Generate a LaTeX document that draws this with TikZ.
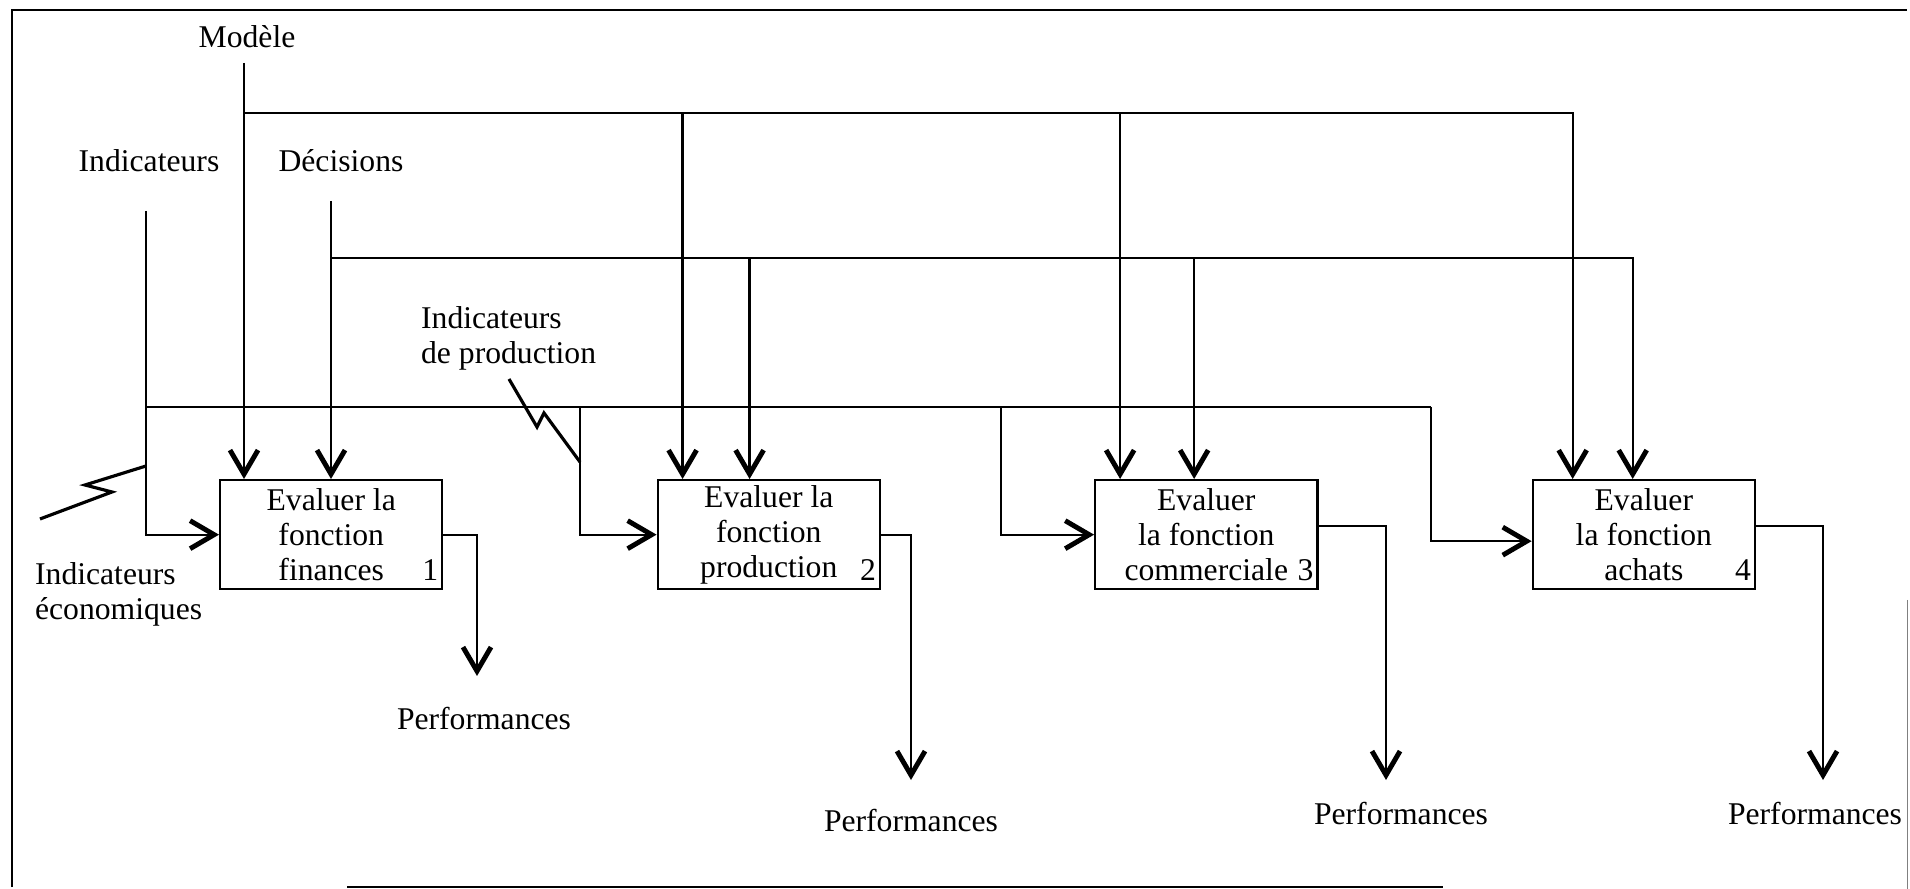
\documentclass[tikz,border=0pt]{standalone}
\usepackage{fontspec}
\setmainfont{Liberation Serif}
\usetikzlibrary{arrows.meta,positioning}

\begin{document}
\begin{tikzpicture}[x=0.01cm,y=-0.01cm,>={Straight Barb[length=2.4mm,width=2.8mm,line width=1.4pt]},
                    line width=0.65pt,node distance=2.13cm,
                    fonc/.style={rectangle,draw,minimum width=2.22cm,minimum height=1.09cm,
                                 inner sep=0pt,align=center,font=\fontsize{9}{10}\selectfont},
                    lbl/.style={inner sep=0pt,align=left,font=\fontsize{9}{10}\selectfont},
                    num/.style={inner sep=0pt,anchor=base east,font=\fontsize{9}{10}\selectfont},
                    eclair/.style={line width=0.9pt,line join=miter}]

  \useasboundingbox (0,0) rectangle (1910,889);
  % cadre
  \draw (12,887) -- (12,10) -- (1907,10);
  \draw[line width=0.4pt] (347,887) -- (1443,887);
  \draw[line width=0.3pt,gray] (1907,600) -- (1907,889);

  % entrees
  \node[lbl] (mod) at (247,37) {Modèle};
  \node[lbl] (ind) at (149,161) {Indicateurs};
  \node[lbl] (dec) at (341,161) {Décisions};
  \node[lbl,anchor=north west] (ieco) at (34,561) {Indicateurs\\économiques};
  \node[lbl,anchor=north west] (iprod) at (420,305) {Indicateurs\\de production};

  % fonctions
  \node[fonc,anchor=north west] (f1) at (219,479) {Evaluer la\\fonction\\finances};
  \node[fonc,right=of f1] (f2) {Evaluer la\\fonction\\production};
  \node[fonc,right=of f2] (f3) {Evaluer\\la fonction\\commerciale};
  \node[fonc,right=of f3] (f4) {Evaluer\\la fonction\\achats};

  \node[num] (n1) at ([shift={(-4,-10)}]f1.south east) {1};
  \node[num] (n2) at ([shift={(-4,-10)}]f2.south east) {2};
  \node[num] (n3) at ([shift={(-4,-10)}]f3.south east) {3};
  \node[num] (n4) at ([shift={(-4,-10)}]f4.south east) {4};

  % sorties
  \node[lbl] (p1) at (484,719) {Performances};
  \node[lbl] (p2) at (911,821) {Performances};
  \node[lbl] (p3) at (1401,814) {Performances};
  \node[lbl] (p4) at (1815,814) {Performances};

  \coordinate (mtop) at (244,63);
  \coordinate (dtop) at (331,201);
  \coordinate (itop) at (146,211);
  \coordinate (mbus) at (244,113);
  \coordinate (dbus) at (331,258);
  \coordinate (ibus) at (146,407);

  \coordinate (m2) at ([xshift=2.6mm]f2.north west);
  \coordinate (d2) at ([xshift=9.3mm]f2.north west);
  \coordinate (m3) at ([xshift=2.6mm]f3.north west);
  \coordinate (d3) at ([xshift=10.0mm]f3.north west);
  \coordinate (m4) at ([xshift=4.1mm]f4.north west);
  \coordinate (d4) at ([xshift=10.1mm]f4.north west);

  \coordinate (i2) at (580,407);
  \coordinate (i3) at (1001,407);
  \coordinate (i4) at (1431,407);

  \coordinate (o1) at (477,676);
  \coordinate (o2) at (911,780);
  \coordinate (o3) at (1386,780);
  \coordinate (o4) at (1823,780);

  % modele
  \draw[->] (mtop) -- (mtop |- f1.north);
  \draw[->] (mbus) -| (m4);
  \draw[->] (mbus -| m2) -- (m2);
  \draw[->] (mbus -| m3) -- (m3);

  % decisions
  \draw[->] (dtop) -- (dtop |- f1.north);
  \draw[->] (dbus) -| (d4);
  \draw[->] (dbus -| d2) -- (d2);
  \draw[->] (dbus -| d3) -- (d3);

  % indicateurs
  \draw[->] (itop) |- (f1.west);
  \draw (ibus) -- (i4);
  \draw[->] (i2) |- (f2.west);
  \draw[->] (i3) |- (f3.west);
  \draw[->] (i4) |- ([yshift=-0.65mm]f4.west);

  \draw[eclair] (40,519) -- (112,492) -- (85,485) -- (146,466);
  \draw[eclair] (509,379) -- (537,427) -- (544,413) -- (580,462);

  % performances
  \draw[->] (f1.east) -| (o1);
  \draw[->] (f2.east) -| (o2);
  \draw[->] ([yshift=0.9mm]f3.east) -| (o3);
  \draw[->] ([yshift=0.9mm]f4.east) -| (o4);
\end{tikzpicture}
\end{document}
